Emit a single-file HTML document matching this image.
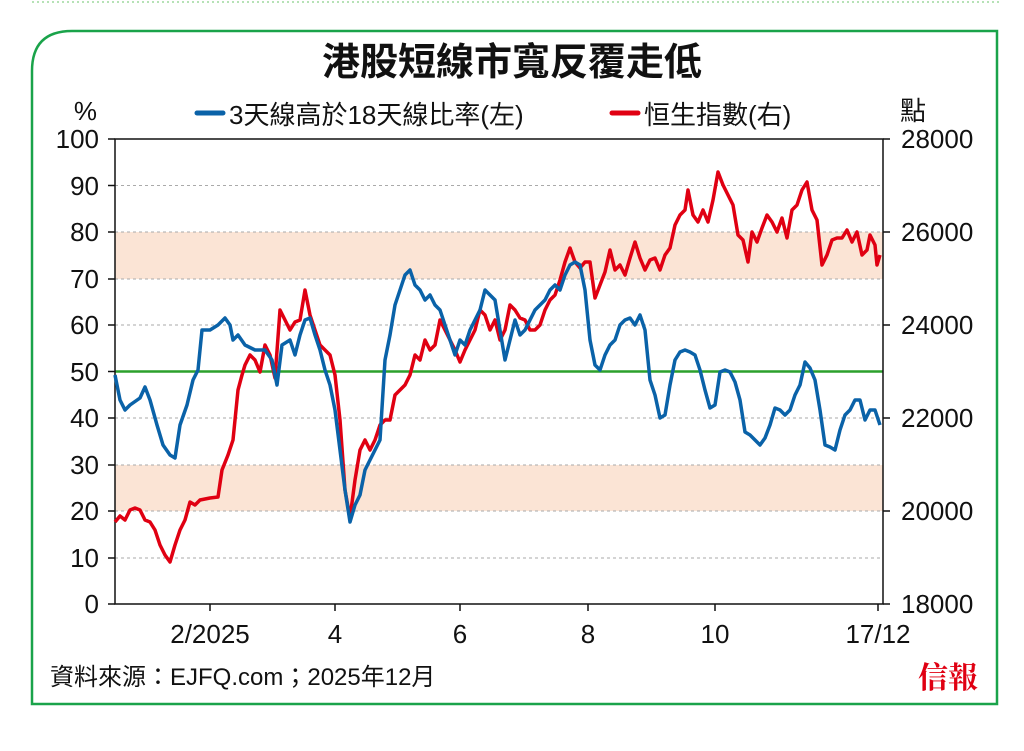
<!DOCTYPE html><html><head><meta charset="utf-8"><style>
body{margin:0;background:#fff;width:1024px;height:746px;overflow:hidden;font-family:"Liberation Sans","Noto Sans CJK TC",sans-serif}
</style></head><body>
<svg width="1024" height="746" xmlns="http://www.w3.org/2000/svg" font-family="Liberation Sans, Noto Sans CJK TC, sans-serif">
<line x1="32" y1="2" x2="1000" y2="2" stroke="#9ed89e" stroke-width="1.5" stroke-dasharray="2,3"/>
<path d="M32,704 V71 Q32,31 72,31 H997 V704 Z" fill="none" stroke="#1aa34a" stroke-width="2.5"/>
<text x="512" y="75" text-anchor="middle" font-size="38" font-weight="bold" fill="#111">港股短線市寬反覆走低</text>
<line x1="197" y1="113" x2="223" y2="113" stroke="#0a62a8" stroke-width="5" stroke-linecap="round"/>
<text x="229" y="124" font-size="26" fill="#111">3天線高於18天線比率(左)</text>
<line x1="612" y1="113" x2="638" y2="113" stroke="#e00012" stroke-width="5" stroke-linecap="round"/>
<text x="644" y="124" font-size="26" fill="#111">恒生指數(右)</text>
<text x="97" y="120" text-anchor="end" font-size="26" fill="#111">%</text>
<text x="900" y="120" font-size="26" fill="#111">點</text>
<rect x="115" y="232" width="768" height="47" fill="#fbe4d5"/>
<rect x="115" y="465" width="768" height="46" fill="#fbe4d5"/>
<g stroke="#aaa" stroke-dasharray="3,3" stroke-width="1">
<line x1="115" y1="185.5" x2="883" y2="185.5"/><line x1="115" y1="232" x2="883" y2="232"/><line x1="115" y1="279" x2="883" y2="279"/><line x1="115" y1="325" x2="883" y2="325"/><line x1="115" y1="418" x2="883" y2="418"/><line x1="115" y1="465" x2="883" y2="465"/><line x1="115" y1="511" x2="883" y2="511"/><line x1="115" y1="558" x2="883" y2="558"/>
</g>
<line x1="115" y1="371.5" x2="883" y2="371.5" stroke="#2ca02c" stroke-width="2.5"/>
<rect x="115" y="139" width="768" height="465" fill="none" stroke="#111" stroke-width="1.5"/>
<g stroke="#111" stroke-width="1.5">
<line x1="108" y1="139" x2="115" y2="139"/><line x1="108" y1="185.5" x2="115" y2="185.5"/><line x1="108" y1="232" x2="115" y2="232"/><line x1="108" y1="279" x2="115" y2="279"/><line x1="108" y1="325" x2="115" y2="325"/><line x1="108" y1="371.5" x2="115" y2="371.5"/><line x1="108" y1="418" x2="115" y2="418"/><line x1="108" y1="465" x2="115" y2="465"/><line x1="108" y1="511" x2="115" y2="511"/><line x1="108" y1="558" x2="115" y2="558"/><line x1="108" y1="604" x2="115" y2="604"/>
<line x1="883" y1="139" x2="890" y2="139"/><line x1="883" y1="232" x2="890" y2="232"/><line x1="883" y1="325" x2="890" y2="325"/><line x1="883" y1="418" x2="890" y2="418"/><line x1="883" y1="511" x2="890" y2="511"/><line x1="883" y1="604" x2="890" y2="604"/>
<line x1="210" y1="604" x2="210" y2="611"/><line x1="335" y1="604" x2="335" y2="611"/><line x1="460" y1="604" x2="460" y2="611"/><line x1="588" y1="604" x2="588" y2="611"/><line x1="715" y1="604" x2="715" y2="611"/><line x1="878" y1="604" x2="878" y2="611"/>
</g>
<g font-size="26" fill="#111" text-anchor="end">
<text x="99" y="148">100</text><text x="99" y="195">90</text><text x="99" y="241">80</text><text x="99" y="288">70</text><text x="99" y="334">60</text><text x="99" y="381">50</text><text x="99" y="427">40</text><text x="99" y="474">30</text><text x="99" y="520">20</text><text x="99" y="567">10</text><text x="99" y="613">0</text>
</g>
<g font-size="26" fill="#111">
<text x="901" y="148">28000</text><text x="901" y="241">26000</text><text x="901" y="334">24000</text><text x="901" y="427">22000</text><text x="901" y="520">20000</text><text x="901" y="613">18000</text>
</g>
<g font-size="26" fill="#111" text-anchor="middle">
<text x="210" y="643">2/2025</text><text x="335" y="643">4</text><text x="460" y="643">6</text><text x="588" y="643">8</text><text x="715" y="643">10</text><text x="878" y="643">17/12</text>
</g>
<polyline fill="none" stroke="#e00012" stroke-width="3.5" stroke-linejoin="round" points="115,522 120,516 125,520 130,510 135,508 140,510 145,520 150,522 155,530 160,545 165,555 170,562 175,545 180,530 185,520 190,502 195,505 200,500 210,498 218,497 222,470 228,455 233,440 238,390 242,375 245,365 250,355 255,360 260,372 265,345 270,355 275,378 280,310 285,320 290,330 295,322 300,320 305,290 310,315 315,330 320,345 325,350 330,355 335,375 340,420 345,490 350,518 355,480 360,450 365,440 370,450 375,440 380,425 385,420 390,420 395,395 400,390 405,385 410,375 415,355 420,360 425,340 430,350 435,345 440,320 445,330 450,340 455,350 460,362 465,350 470,340 475,330 480,310 485,315 490,330 495,320 500,340 505,330 510,305 515,310 520,318 525,320 530,330 535,330 540,325 545,310 550,300 555,295 560,280 565,262 570,248 575,262 580,268 585,262 590,262 595,298 600,285 605,272 610,250 615,270 620,265 625,275 630,258 635,242 640,258 645,270 650,260 655,258 660,270 665,255 670,248 675,225 680,215 685,210 688,190 693,215 698,222 703,210 708,222 713,200 718,172 723,185 728,195 733,205 738,235 743,240 748,262 752,232 757,242 762,228 767,215 772,222 777,232 782,218 787,238 792,210 797,205 802,190 807,182 812,210 817,220 822,265 827,255 832,240 837,238 842,238 847,230 852,242 857,232 862,255 867,250 870,235 875,245 877,265 880,255"/>
<polyline fill="none" stroke="#0a62a8" stroke-width="3.5" stroke-linejoin="round" points="115,375 120,400 125,410 130,405 140,398 145,387 150,400 157,425 163,445 170,455 175,458 180,425 187,405 193,380 198,370 202,330 210,330 218,325 225,318 230,325 233,340 238,335 245,345 255,350 265,350 272,360 277,385 282,345 290,340 295,355 300,335 305,320 310,318 315,335 320,350 325,370 330,385 335,410 340,450 345,490 350,522 355,505 360,495 365,470 370,460 375,450 380,440 385,360 390,335 395,305 400,290 405,275 410,270 415,285 420,290 425,300 430,295 435,305 440,310 445,325 450,340 455,355 460,340 465,345 470,330 475,320 480,310 485,290 490,295 495,300 500,330 505,360 510,340 515,320 520,335 525,330 530,320 535,310 540,305 545,300 550,290 555,285 560,290 565,275 570,265 575,262 580,265 585,290 590,340 595,365 600,370 605,355 610,345 615,340 620,325 625,320 630,318 635,325 640,315 645,330 650,380 655,395 660,418 665,415 670,385 675,360 680,352 685,350 690,352 695,355 700,370 705,390 710,408 715,405 720,372 725,370 730,372 735,382 740,400 745,432 750,435 755,440 760,445 765,438 770,425 775,408 780,410 785,415 790,410 795,395 800,385 805,362 810,368 815,380 820,410 825,445 830,447 835,450 840,430 845,415 850,410 855,400 860,400 865,420 870,410 875,410 880,425"/>
<text x="50" y="685" font-size="24" fill="#111">資料來源：EJFQ.com；2025年12月</text>
<text x="978" y="688" text-anchor="end" font-size="30" font-weight="bold" fill="#e00012" font-family="Noto Serif CJK SC, serif">信報</text>
</svg>
</body></html>
